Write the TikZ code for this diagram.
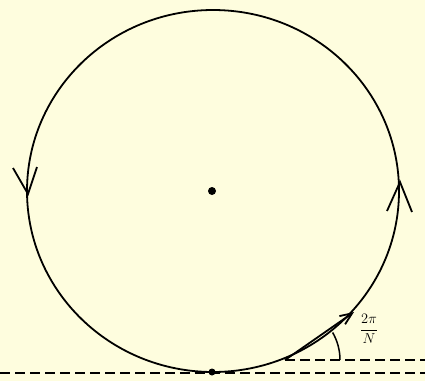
\documentclass[tikz,border=0pt]{standalone}
\usepackage{amsmath}
\usetikzlibrary{arrows.meta}
\definecolor{bg}{RGB}{254,253,222}
\begin{document}
\begin{tikzpicture}[x=1pt,y=-1pt,
  line/.style={line width=1.8pt,black},
  dash line/.style={line width=1.8pt,dash pattern=on 10pt off 5pt},
  dotmark/.style={circle,fill=black,inner sep=0pt,minimum size=8pt}]
\fill[bg] (0,0) rectangle (425,381);
\useasboundingbox (0,0) rectangle (425,381);
% circle
\draw[line] (213,191) ellipse [x radius=186, y radius=181];
\node[dotmark] (c) at (212,191) {};
\node[dotmark,minimum size=7pt] (b) at (212,372) {};
% direction marks
\draw[line] (13,168) -- (28,194) -- (37,167);
\draw[line] (387,211) -- (400,182) -- (412,212);
% dashed lines
\coordinate (l0) at (0,373);
\coordinate (l1) at (425,373);
\draw[dash line] (l0) -- (l1);
\coordinate (p) at (285,360);
\coordinate (pr) at (425,360);
\draw[dash line] (p) -- (pr);
% chord with arrow
\coordinate (q) at (354,312);
\draw[line,-{Straight Barb[length=12pt,width=10pt]}] (p) -- (q);
% angle arc
\draw[line width=1.5pt] ([shift={(0:55)}]p) arc[start angle=0,end angle=-30,radius=55];
\node[inner sep=0pt] (lab) at (369,329) {\Large$\displaystyle\frac{2\pi}{N}$};
\end{tikzpicture}
\end{document}
